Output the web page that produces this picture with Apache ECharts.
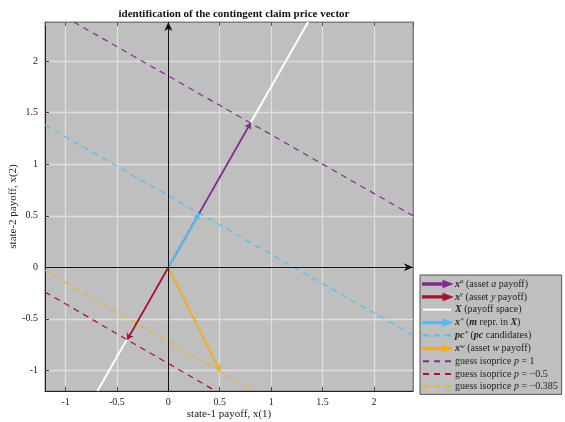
<!DOCTYPE html>
<html>
<head>
<meta charset="utf-8">
<script src="https://cdn.jsdelivr.net/npm/echarts@6/dist/echarts.min.js"></script>
<style>
  html, body { margin: 0; padding: 0; background: #fff; }
  #chart { width: 565px; height: 422px; }
</style>
</head>
<body>
<div id="chart"></div>
<script>
// axis range (equal aspect)
var xRange = [-1.2, 2.38];
var yRange = [-1.2, 2.38];

// payoff vectors (tips, all start at origin)
var origin = [0, 0];
var xA = [0.8, 1.4];      // asset a payoff
var xY = [-0.4, -0.7];    // asset y payoff
var xStar = [0.3, 0.525]; // m representative in X
var xW = [0.5, -1.0];     // asset w payoff

// lines (end points)
var payoffSpace = [[-0.69, -1.2], [1.36, 2.38]];
var pcCandidates = [[-1.2, 1.38], [2.38, -0.66]];
var isoP1 = [[-0.92, 2.38], [2.38, 0.5]];
var isoPm05 = [[-1.2, -0.24], [0.46, -1.2]];
var isoPm0385 = [[-1.2, -0.03], [0.83, -1.2]];

var cPurple = '#7E2F8E', cRed = '#A2142F', cBlue = '#4DBEEE', cOrange = '#EDB120';
var serif = 'Liberation Serif';

var legendText = {
    xa: '{bx|x}{sup|a} (asset {it|a} payoff)',
    xy: '{bx|x}{sup|y} (asset {it|y} payoff)',
    X: '{bx|X} (payoff space)',
    xstar: '{bx|x}{sup|*} ({bx|m} repr. in {bx|X})',
    pcstar: '{bx|pc}{sup|*} ({bx|pc} candidates)',
    xw: '{bx|x}{sup|w} (asset {it|w} payoff)',
    p1: 'guess isoprice {it|p} = 1',
    pm05: 'guess isoprice {it|p} = \u22120.5',
    pm0385: 'guess isoprice {it|p} = \u22120.385'
};
var arrowIcon = 'path://M0,4.3L22,4.3L22,2L30,5L22,8L22,5.7L0,5.7Z';

function vector(name, tip, color) {
    return {
        name: name, type: 'lines', coordinateSystem: 'cartesian2d',
        symbol: ['none', 'arrow'], symbolSize: 6, z: 4,
        itemStyle: { color: color },
        lineStyle: { color: color, width: 2, opacity: 1 },
        data: [{ coords: [origin, tip] }]
    };
}
function segment(name, pts, color, type, width, z) {
    return {
        name: name, type: 'line', data: pts, symbol: 'none', z: z,
        itemStyle: { color: color },
        lineStyle: { color: color, width: width, type: type }
    };
}
function arrowItem(name) {
    return { name: name, icon: arrowIcon, itemStyle: { opacity: 1 } };
}

var myChart = echarts.init(document.getElementById('chart'));
var option = {
    animation: false,
    title: {
        text: 'identification of the contingent claim price vector',
        left: 229, top: 4, textAlign: 'center',
        textStyle: { fontFamily: serif, fontSize: 11, fontWeight: 'bold', color: '#111' }
    },
    grid: {
        left: 45, top: 22, width: 368, height: 369, outerBoundsMode: 'none', containLabel: false,
        show: true, backgroundColor: '#bfbfbf', borderColor: '#808080', borderWidth: 1
    },
    legend: {
        orient: 'vertical', left: 420, top: 275,
        backgroundColor: '#bfbfbf', borderColor: '#555', borderWidth: 1,
        padding: [3, 4, 2, 2], itemWidth: 28, itemHeight: 7, itemGap: 1.2,
        selectedMode: false,
        itemStyle: { opacity: 0 },
        data: [
            arrowItem('xa'), arrowItem('xy'), { name: 'X' }, arrowItem('xstar'), { name: 'pcstar' },
            arrowItem('xw'), { name: 'p1' }, { name: 'pm05' }, { name: 'pm0385' }
        ],
        formatter: function (name) { return legendText[name]; },
        textStyle: {
            fontFamily: serif, fontSize: 10, color: '#222', lineHeight: 11.5, padding: [0, 0, 0, -1],
            rich: {
                bx: { fontFamily: serif, fontSize: 10, fontWeight: 'bold', fontStyle: 'italic', color: '#222' },
                it: { fontFamily: serif, fontSize: 10, fontStyle: 'italic', color: '#222' },
                sup: { fontFamily: serif, fontSize: 7, fontStyle: 'italic', color: '#222', padding: [0, 0, 5, 0] }
            }
        }
    },
    xAxis: [{
        type: 'value', min: xRange[0], max: xRange[1], splitNumber: 7,
        name: 'state-1 payoff, x(1)', nameLocation: 'middle', nameGap: 18, nameMoveOverlap: false,
        nameTextStyle: { fontFamily: serif, fontSize: 11, color: '#222' },
        axisLine: { onZero: false, lineStyle: { color: '#222', width: 1 } },
        axisTick: { inside: true, length: 4, lineStyle: { color: '#444' } },
        axisLabel: { fontFamily: serif, fontSize: 10, color: '#222', margin: 6, showMinLabel: false, showMaxLabel: false },
        splitLine: { show: true, showMinLine: false, showMaxLine: false, lineStyle: { color: '#dedede', width: 1.3 } }
    }, {
        type: 'value', min: xRange[0], max: xRange[1], splitNumber: 7, position: 'top',
        axisLine: { onZero: false, lineStyle: { color: '#808080', width: 1 } },
        axisTick: { inside: true, length: 4, lineStyle: { color: '#555' } },
        axisLabel: { show: false }, splitLine: { show: false }
    }],
    yAxis: [{
        type: 'value', min: yRange[0], max: yRange[1], splitNumber: 7,
        name: 'state-2 payoff, x(2)', nameLocation: 'middle', nameGap: 26, nameMoveOverlap: false,
        nameTextStyle: { fontFamily: serif, fontSize: 11, color: '#222' },
        axisLine: { onZero: false, lineStyle: { color: '#222', width: 1 } },
        axisTick: { inside: true, length: 4, lineStyle: { color: '#444' } },
        axisLabel: { fontFamily: serif, fontSize: 10, color: '#222', margin: 7, showMinLabel: false, showMaxLabel: false },
        splitLine: { show: true, showMinLine: false, showMaxLine: false, lineStyle: { color: '#dedede', width: 1.3 } }
    }, {
        type: 'value', min: yRange[0], max: yRange[1], splitNumber: 7, position: 'right',
        axisLine: { onZero: false, lineStyle: { color: '#808080', width: 1 } },
        axisTick: { show: false }, axisLabel: { show: false }, splitLine: { show: false }
    }],
    series: [
        // black coordinate axes with arrow heads
        {
            name: 'axes', type: 'line', data: [], z: 3,
            markLine: {
                silent: true, symbol: ['none', 'arrow'], symbolSize: [6, 9],
                label: { show: false },
                lineStyle: { color: '#111', width: 1, type: 'solid' },
                data: [
                    [{ coord: [xRange[0], 0] }, { coord: [xRange[1], 0] }],
                    [{ coord: [0, yRange[0]] }, { coord: [0, yRange[1]] }]
                ]
            }
        },
        segment('X', payoffSpace, '#ffffff', 'solid', 2, 2),
        vector('xa', xA, cPurple),
        vector('xy', xY, cRed),
        vector('xstar', xStar, cBlue),
        segment('pcstar', pcCandidates, cBlue, [6, 5], 1.2, 3),
        vector('xw', xW, cOrange),
        segment('p1', isoP1, cPurple, [6, 5], 1.2, 3),
        segment('pm05', isoPm05, cRed, [6, 5], 1.2, 3),
        segment('pm0385', isoPm0385, cOrange, [6, 5], 1.2, 3)
    ]
};
myChart.setOption(option);
</script>
</body>
</html>
